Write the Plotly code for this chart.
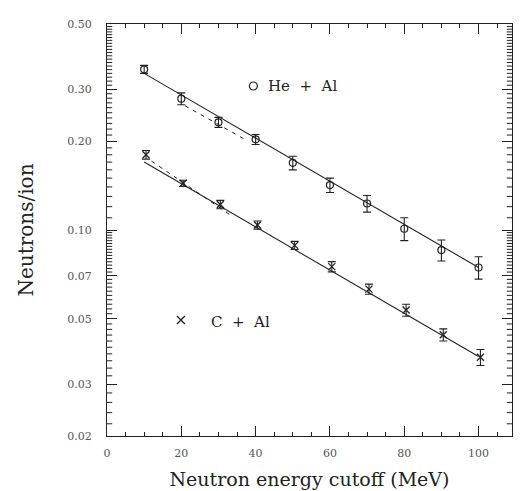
import numpy as np
import plotly.graph_objects as go

# Neutron yield per incident ion above an energy cutoff
energy_cutoff = [10, 20, 30, 40, 50, 60, 70, 80, 90, 100]
he_al = [0.351, 0.279, 0.232, 0.203, 0.169, 0.142, 0.123, 0.101, 0.0855, 0.0746]
he_al_err = [0.011, 0.013, 0.009, 0.008, 0.009, 0.008, 0.008, 0.009, 0.007, 0.0065]
c_al = [0.180, 0.144, 0.122, 0.104, 0.0887, 0.0751, 0.0630, 0.0535, 0.0441, 0.0370]
c_al_err = [0.006, 0.0035, 0.004, 0.0033, 0.0028, 0.003, 0.0025, 0.0025, 0.0021, 0.0023]

# Exponential fits (solid) and alternative low-energy fits (dashed)
he_fit_x = [10, 100]
he_fit_y = [0.340, 0.0746]
c_fit_x = [10, 100]
c_fit_y = [0.170, 0.0372]
he_alt_x = [21, 37]
he_alt_y = [0.264, 0.2034]
c_alt_x = [12, 34]
c_alt_y = [0.1713, 0.1107]

y_tickvals = [0.02, 0.03, 0.05, 0.07, 0.10, 0.20, 0.30, 0.50]
y_ticktext = ["0.02", "0.03", "0.05", "0.07", "0.10", "0.20", "0.30", "0.50"]
x_tickvals = [0, 20, 40, 60, 80, 100]
x_range = [0, 109]

INK = "#222222"
FONT = "DejaVu Serif"
NB = "\u00a0"

fig = go.Figure()

for fx, fy in [(he_fit_x, he_fit_y), (c_fit_x, c_fit_y)]:
    fig.add_trace(go.Scatter(x=fx, y=fy, mode="lines",
                             line=dict(color=INK, width=1.1), hoverinfo="skip"))
for fx, fy in [(he_alt_x, he_alt_y), (c_alt_x, c_alt_y)]:
    fig.add_trace(go.Scatter(x=fx, y=fy, mode="lines",
                             line=dict(color=INK, width=1, dash="4px,5px"), hoverinfo="skip"))

fig.add_trace(go.Scatter(
    x=energy_cutoff, y=he_al, mode="markers", name="He + Al",
    marker=dict(symbol="circle-open", size=7, color=INK, line=dict(width=1.2)),
    error_y=dict(type="data", array=he_al_err, color=INK, thickness=1.1, width=4),
))
fig.add_trace(go.Scatter(
    x=[e + 0.5 for e in energy_cutoff], y=c_al, mode="markers", name="C + Al",
    marker=dict(symbol="x-thin-open", size=7, color=INK, line=dict(width=1.3)),
    error_y=dict(type="data", array=c_al_err, color=INK, thickness=1.1, width=4),
))

# In-plot key
fig.add_trace(go.Scatter(x=[39.4], y=[0.308], mode="markers",
                         marker=dict(symbol="circle-open", size=8, color=INK, line=dict(width=1.2)),
                         hoverinfo="skip"))
fig.add_trace(go.Scatter(x=[19.9], y=[0.0495], mode="markers",
                         marker=dict(symbol="x-thin-open", size=8, color=INK, line=dict(width=1.3)),
                         hoverinfo="skip"))
fig.add_annotation(x=52.6, y=np.log10(0.309), text=f"He{NB}{NB}+{NB}{NB}Al", showarrow=False,
                   font=dict(family=FONT, size=15, color=INK))
fig.add_annotation(x=36, y=np.log10(0.0487), text=f"C{NB}{NB}+{NB}{NB}Al", showarrow=False,
                   font=dict(family=FONT, size=15, color=INK))

# Dense minor ticks on the logarithmic axis, drawn inward from both sides
y_minor = [round(v, 3) for v in np.arange(0.022, 0.1, 0.002)] + \
          [round(v, 2) for v in np.arange(0.11, 0.5, 0.01)]
tick_len = 1.4  # in x units
mx, my = [], []
for v in y_minor:
    if any(abs(v - t) < 1e-9 for t in y_tickvals):
        continue
    mx += [x_range[0], x_range[0] + tick_len, None, x_range[1], x_range[1] - tick_len, None]
    my += [v, v, None, v, v, None]
fig.add_trace(go.Scatter(x=mx, y=my, mode="lines", line=dict(color=INK, width=1),
                         hoverinfo="skip", cliponaxis=False))

axis_common = dict(
    showline=True, linecolor=INK, linewidth=1.3, mirror="allticks",
    ticks="inside", tickcolor=INK, tickwidth=1.1, showgrid=False, zeroline=False,
    tickfont=dict(family=FONT, size=11, color="#555555"), automargin=False,
)

fig.update_xaxes(
    range=x_range, tickvals=x_tickvals, ticklen=10, ticklabelstandoff=7,
    minor=dict(dtick=5, ticks="inside", ticklen=4, tickcolor=INK, tickwidth=1),
    title=dict(text="Neutron energy cutoff (MeV)", font=dict(family=FONT, size=19, color=INK),
               standoff=13),
    **axis_common,
)
fig.update_yaxes(
    type="log", range=[np.log10(0.02), np.log10(0.5)],
    tickvals=y_tickvals, ticktext=y_ticktext, ticklen=10, ticklabelstandoff=12,
    title=dict(text="Neutrons/ion", font=dict(family=FONT, size=20, color=INK), standoff=28),
    **axis_common,
)

fig.update_layout(
    width=521, height=491,
    margin=dict(l=107, r=9, t=24, b=55),
    paper_bgcolor="white", plot_bgcolor="white",
    showlegend=False,
)

fig.write_html("out.html")
